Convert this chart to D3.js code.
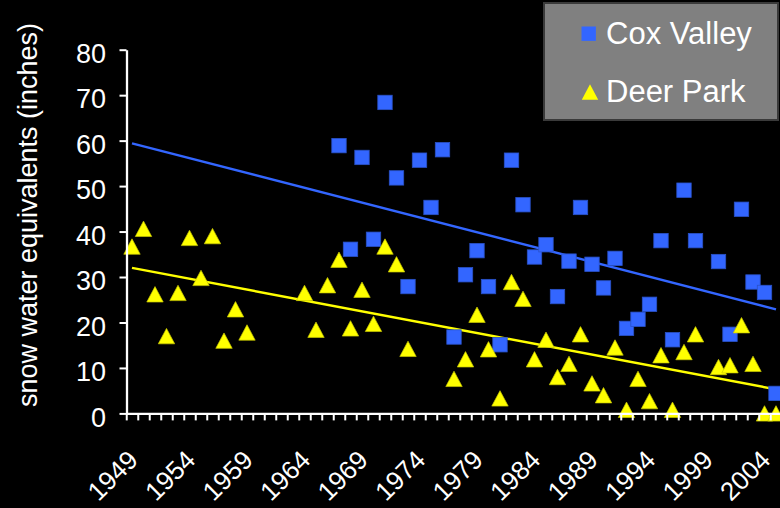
<!DOCTYPE html>
<html>
<head>
<meta charset="utf-8">
<script src="https://cdn.jsdelivr.net/npm/d3@7"></script>
<style>
  html, body { margin: 0; padding: 0; background: #000; }
  svg { display: block; }
</style>
</head>
<body>
<svg id="chart" width="780" height="508"></svg>
<script>
// Water years on the category axis
const years = [
  1949, 1950, 1951, 1952, 1953, 1954, 1955, 1956, 1957, 1958,
  1959, 1960, 1961, 1962, 1963, 1964, 1965, 1966, 1967, 1968,
  1969, 1970, 1971, 1972, 1973, 1974, 1975, 1976, 1977, 1978,
  1979, 1980, 1981, 1982, 1983, 1984, 1985, 1986, 1987, 1988,
  1989, 1990, 1991, 1992, 1993, 1994, 1995, 1996, 1997, 1998,
  1999, 2000, 2001, 2002, 2003, 2004, 2005
];

// Snow water equivalent (inches), null = no measurement
const coxValley = [
  null, null, null, null, null, null, null, null, null, null,
  null, null, null, null, null, null, null, null, 58.9, 36.1,
  56.3, 38.3, 68.4, 51.8, 27.9, 55.7, 45.3, 58.0, 16.8, 30.5,
  35.8, 27.9, 15.1, 55.7, 45.9, 34.4, 37.1, 25.7, 33.5, 45.3,
  32.8, 27.6, 34.1, 18.7, 20.7, 24.0, 38.0, 16.2, 49.1, 38.0,
  null, 33.4, 17.4, 44.9, 28.9, 26.6, 4.4
];

const deerPark = [
  36.7, 40.6, 26.2, 17.0, 26.5, 38.6, 29.8, 39.0, 16.0, 22.9,
  17.8, null, null, null, null, 26.5, 18.4, 28.2, 33.8, 18.7,
  27.2, 19.7, 36.7, 32.8, 14.2, null, null, null, 7.6, 11.9,
  21.7, 14.1, 3.3, 28.9, 25.2, 11.9, 16.2, 8.0, 10.9, 17.4,
  6.6, 4.0, 14.5, 0.8, 7.6, 2.7, 12.8, 0.8, 13.5, 17.4,
  null, 10.2, 10.6, 19.4, 10.9, 0, 0
];

// Linear trend lines, given at the first and last year
const trendYears = [1949, 2005];
const coxTrend = [59.4, 22.9];
const deerTrend = [32.0, 5.3];

// Axis labelling
const yTicks = [0, 10, 20, 30, 40, 50, 60, 70, 80];
const xLabelYears = [1949, 1954, 1959, 1964, 1969, 1974, 1979, 1984, 1989, 1994, 1999, 2004];
const seriesNames = ["Cox Valley", "Deer Park"];
const yTitle = "snow water equivalents (inches)";

const BLUE = "#3366ff";
const YELLOW = "#ffff00";
const FONT = "'Liberation Sans', Arial, sans-serif";

const svg = d3.select("#chart");
svg.append("rect").attr("width", 780).attr("height", 508).attr("fill", "#000");

const plot = { left: 126.25, right: 781.75, top: 49.7, bottom: 413.4 };

const x = d3.scaleLinear()
  .domain([years[0] - 0.5, years[years.length - 1] + 0.5])
  .range([plot.left, plot.right]);

const y = d3.scaleLinear()
  .domain([0, 80])
  .range([plot.bottom, plot.top]);

// Trend lines
const trendLine = d3.line()
  .x(d => x(d[0]))
  .y(d => y(d[1]));

[[coxTrend, BLUE], [deerTrend, YELLOW]].forEach(([vals, col]) => {
  svg.append("path")
    .datum(trendYears.map((yr, i) => [yr, vals[i]]))
    .attr("d", trendLine)
    .attr("fill", "none")
    .attr("stroke", col)
    .attr("stroke-width", 2.4);
});

// Markers
const squareSize = 14.4;
const triPath = "M0,-7.7L8.2,7.7L-8.2,7.7Z";

const coxPts = years.map((yr, i) => ({ yr, v: coxValley[i] })).filter(d => d.v !== null);
const deerPts = years.map((yr, i) => ({ yr, v: deerPark[i] })).filter(d => d.v !== null);

svg.append("g").selectAll("rect")
  .data(coxPts)
  .join("rect")
  .attr("x", d => x(d.yr) - squareSize / 2)
  .attr("y", d => y(d.v) - squareSize / 2)
  .attr("width", squareSize)
  .attr("height", squareSize)
  .attr("fill", BLUE)
  .attr("stroke", "#2a52c8")
  .attr("stroke-width", 0.8);

svg.append("g").selectAll("path")
  .data(deerPts)
  .join("path")
  .attr("transform", d => `translate(${x(d.yr)},${y(d.v)})`)
  .attr("d", triPath)
  .attr("fill", YELLOW)
  .attr("stroke", "#c9c900")
  .attr("stroke-width", 0.7);

// Y axis
const yAxis = svg.append("g")
  .attr("transform", `translate(${plot.left + 0.25},0)`)
  .call(d3.axisLeft(y).tickValues(yTicks).tickSize(7).tickPadding(13.5).tickSizeOuter(0));
yAxis.select(".domain").attr("stroke", "#fff").attr("stroke-width", 2.3);
yAxis.selectAll(".tick line").attr("stroke", "#fff").attr("stroke-width", 2);
yAxis.selectAll(".tick text")
  .attr("fill", "#fff")
  .attr("font-family", FONT)
  .attr("font-size", 27)
  .attr("dy", "0.47em");

// X axis: one tick between every pair of years
const xAxis = svg.append("g")
  .attr("transform", `translate(0,${plot.bottom})`)
  .call(d3.axisBottom(x)
    .tickValues(d3.range(years[0] - 0.5, years[years.length - 1] + 1, 1))
    .tickSize(7)
    .tickSizeOuter(0)
    .tickFormat(""));
xAxis.select(".domain").attr("stroke", "#fff").attr("stroke-width", 2.3);
xAxis.selectAll(".tick line").attr("stroke", "#fff").attr("stroke-width", 2);

// Year labels every five years, slanted
const xLabels = svg.append("g")
  .attr("transform", `translate(0,${plot.bottom})`)
  .call(d3.axisBottom(x).tickValues(xLabelYears).tickSize(0).tickFormat(d3.format("d")));
xLabels.select(".domain").remove();
xLabels.selectAll(".tick text")
  .attr("fill", "#fff")
  .attr("font-family", FONT)
  .attr("font-size", 26)
  .attr("text-anchor", "end")
  .attr("y", 0)
  .attr("dy", 0)
  .attr("transform", "translate(7,48) rotate(-45)");

// Y title
svg.append("text")
  .attr("transform", `translate(37,215) rotate(-90)`)
  .attr("text-anchor", "middle")
  .attr("fill", "#fff")
  .attr("font-family", FONT)
  .attr("font-size", 27)
  .text(yTitle);

// Legend
const legend = svg.append("g");
legend.append("rect")
  .attr("x", 544).attr("y", 3)
  .attr("width", 234).attr("height", 117)
  .attr("fill", "#808080")
  .attr("stroke", "#3a3a3a")
  .attr("stroke-width", 2);

legend.append("rect")
  .attr("x", 581.5).attr("y", 26.5)
  .attr("width", 14.4).attr("height", 14.4)
  .attr("fill", BLUE);
legend.append("path")
  .attr("transform", "translate(590,92)")
  .attr("d", triPath)
  .attr("fill", YELLOW);

legend.selectAll("text.lbl")
  .data(seriesNames)
  .join("text")
  .attr("class", "lbl")
  .attr("x", 606)
  .attr("y", (d, i) => i === 0 ? 43.5 : 101.7)
  .attr("fill", "#fff")
  .attr("font-family", FONT)
  .attr("font-size", 31)
  .text(d => d);
</script>
</body>
</html>
